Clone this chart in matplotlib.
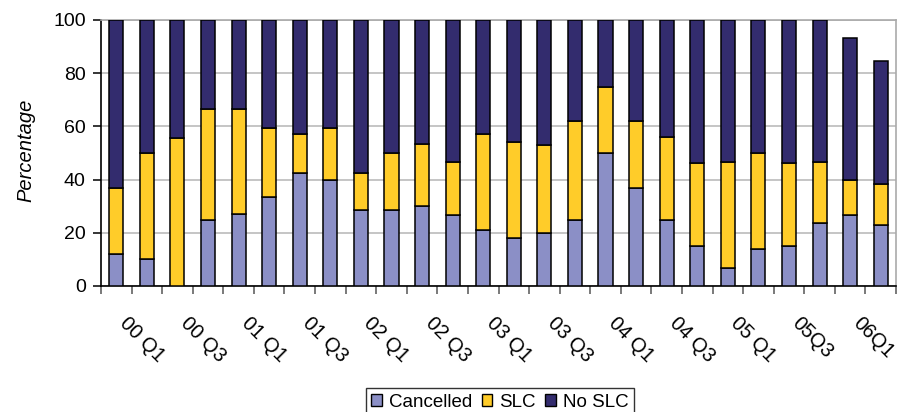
import matplotlib.pyplot as plt
import matplotlib.transforms as mtransforms
import numpy as np

plt.rcParams['font.family'] = ['Liberation Sans', 'DejaVu Sans']

# quarters 00 Q1 .. 06 Q2, only every other one is labelled
quarters = ['00 Q1', '', '00 Q3', '', '01 Q1', '', '01 Q3', '', '02 Q1', '',
            '02 Q3', '', '03 Q1', '', '03 Q3', '', '04 Q1', '', '04 Q3', '',
            '05 Q1', '', '05Q3', '', '06Q1', '']
cancelled = [12, 10, 0, 25, 27, 33.5, 42.5, 40, 28.6, 28.6, 30.2, 26.7, 21.2,
             18, 20, 25, 50, 37, 25, 15, 6.7, 14, 15, 23.7, 26.7, 23]
slc = [25, 40, 55.5, 41.5, 39.5, 26, 14.6, 19.5, 13.9, 21.4, 23.3, 20, 35.9,
       36, 33, 37, 25, 25, 31, 31.2, 40, 36, 31.2, 23, 13.3, 15.3]
no_slc = [63, 50, 44.5, 33.5, 33.5, 40.5, 42.9, 40.5, 57.5, 50, 46.5, 53.3, 42.9,
          46, 47, 38, 25, 38, 44, 53.8, 53.3, 50, 53.8, 53.3, 53.3, 46.4]

c_canc = '#8B8FC6'
c_slc = '#FFCC29'
c_noslc = '#332C6E'

fig = plt.figure(figsize=(9.11, 4.12), dpi=100)
ax = fig.add_axes([101 / 911, 1 - 286 / 412, 795 / 911, 266 / 412])

x = np.arange(len(quarters))
w = 0.46
kw = dict(width=w, edgecolor='black', linewidth=1.1, zorder=3)
b1 = ax.bar(x, cancelled, color=c_canc, label='Cancelled', **kw)
b2 = ax.bar(x, slc, bottom=cancelled, color=c_slc, label='SLC', **kw)
bot = np.array(cancelled) + np.array(slc)
b3 = ax.bar(x, no_slc, bottom=bot, color=c_noslc, label='No SLC', **kw)

ax.set_xlim(-0.5, len(quarters) - 0.5)
ax.set_ylim(0, 100)
ax.set_yticks(range(0, 101, 20))
ax.yaxis.grid(True, color='#BBBBBB', linewidth=1.2, zorder=0)
ax.set_axisbelow(True)

for s in ['top', 'right']:
    ax.spines[s].set_color('#AAAAAA')
    ax.spines[s].set_linewidth(1.2)
for s in ['left', 'bottom']:
    ax.spines[s].set_color('black')
    ax.spines[s].set_linewidth(1.2)

ax.tick_params(axis='y', direction='out', length=6, width=1.1, pad=5, labelsize=14)

# tick marks between categories, labels at the category centres
ax.set_xticks(np.arange(-0.5, len(quarters)), labels=[])
ax.tick_params(axis='x', which='major', direction='out', length=6, width=1.1, color='#555555')
lab_pos = [i for i, q in enumerate(quarters) if q]
ax.set_xticks(lab_pos, labels=[quarters[i] for i in lab_pos], minor=True)
ax.tick_params(axis='x', which='minor', length=0, pad=20, labelsize=14.5)
off = mtransforms.ScaledTranslation(13 / 100, 0, fig.dpi_scale_trans)
for t in ax.get_xticklabels(minor=True):
    t.set_rotation(-45)
    t.set_ha('left')
    t.set_va('top')
    t.set_rotation_mode('anchor')
    t.set_transform(t.get_transform() + off)

fig.text(26 / 911, 1 - 150 / 412, 'Percentage', rotation=90, style='italic',
         fontsize=14.5, ha='center', va='center')

leg = fig.legend(handles=[b1, b2, b3], loc='upper center', ncol=3,
                 bbox_to_anchor=(500 / 911, 1 - 388 / 412), fontsize=13.5,
                 frameon=True, fancybox=False, edgecolor='black',
                 handlelength=0.55, handleheight=0.55, handletextpad=0.4,
                 columnspacing=0.5, borderpad=0.3, borderaxespad=0)
leg.get_frame().set_linewidth(1.0)
for h in leg.legend_handles:
    h.set_linewidth(1.0)

fig.savefig('out.png', dpi=100)
